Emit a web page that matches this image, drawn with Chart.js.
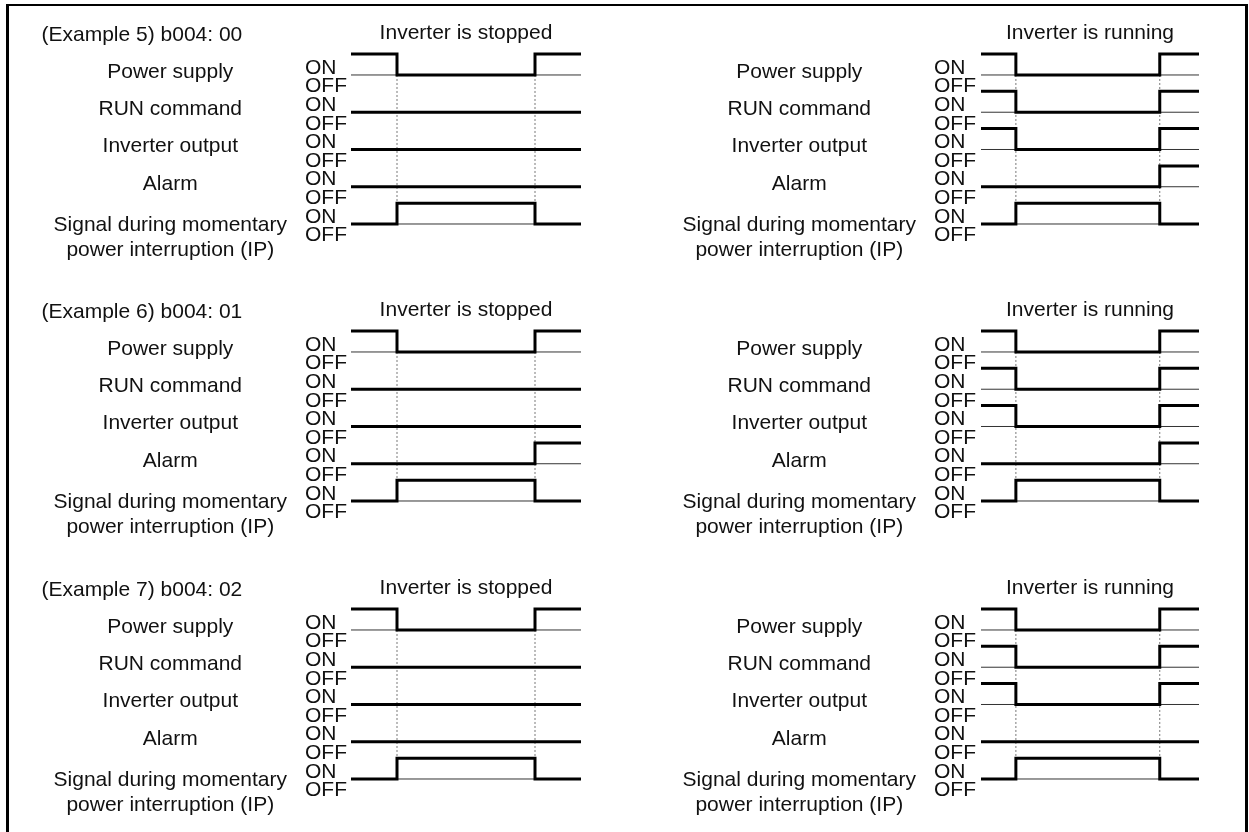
<!DOCTYPE html>
<html>
<head>
<meta charset="utf-8">
<title>b004 timing charts</title>
<script src="https://cdn.jsdelivr.net/npm/chart.js@4.4.1/dist/chart.umd.min.js"></script>
<style>
  html, body { margin: 0; padding: 0; background: #fff; }
  #page { position: relative; width: 1249px; height: 832px; overflow: hidden; }
  #frame { position: absolute; left: 6px; top: 4px; width: 1236px; height: 900px;
           border-top: 2px solid #000; border-left: 3px solid #000; border-right: 3px solid #000; }
  canvas { position: absolute; }
</style>
</head>
<body>
<div id="page">
  <div id="frame"></div>
</div>
<script>
// rows from top to bottom
const signalNames = ["Power supply", "RUN command", "Inverter output", "Alarm",
                     ["Signal during momentary", "power interruption (IP)"]];
const levelLabels = ["ON", "OFF"];

const exampleTags = ["(Example 5) b004: 00", "(Example 6) b004: 01", "(Example 7) b004: 02"];
const modeTitles = ["Inverter is stopped", "Inverter is running"];

// times: start, power lost, power back, end
const stoppedTimes = [0, 1, 4, 5];
const runningTimes = [0, 0.8, 4.1, 5];

// 1 = ON, 0 = OFF for each interval (before loss, during loss, after return)
const ex5Stopped = [[1, 0, 1], [0, 0, 0], [0, 0, 0], [0, 0, 0], [0, 1, 0]];
const ex5Running = [[1, 0, 1], [1, 0, 1], [1, 0, 1], [0, 0, 1], [0, 1, 0]];
const ex6Stopped = [[1, 0, 1], [0, 0, 0], [0, 0, 0], [0, 0, 1], [0, 1, 0]];
const ex6Running = [[1, 0, 1], [1, 0, 1], [1, 0, 1], [0, 0, 1], [0, 1, 0]];
const ex7Stopped = [[1, 0, 1], [0, 0, 0], [0, 0, 0], [0, 0, 0], [0, 1, 0]];
const ex7Running = [[1, 0, 1], [1, 0, 1], [1, 0, 1], [0, 0, 0], [0, 1, 0]];

const panelStates = [[ex5Stopped, ex5Running], [ex6Stopped, ex6Running], [ex7Stopped, ex7Running]];

// --- look ---
const FONT = "'Liberation Sans', Arial, Helvetica, sans-serif";
const NARROW = "'Liberation Sans Narrow', 'Liberation Sans', Arial, sans-serif";
const INK = '#111';
const ON_STEP = 0.56;          // height of ON above OFF, in row units
const Y_MIN = -1, Y_MAX = 4.7;
const TOP_AXIS_H = 48.9;
const ROW_TOPS = [0, 277, 555];
const ROW_H = 277;
// left column / right column geometry
const COLS = [
  { left: 8,   width: 612, nameW: 277, levelW: 46, padRight: 39 },
  { left: 620, width: 626, nameW: 294, levelW: 47, padRight: 47 }
];
const nameNudge = [0.08, 0.08, 0.08, 0.08, -0.37];

Chart.defaults.font.family = FONT;
Chart.defaults.color = INK;

function rowBase(i) { return signalNames.length - 1 - i; }

const exampleTag = {
  id: 'exampleTag',
  afterDraw(chart, args, opts) {
    if (!opts.text) return;
    const ctx = chart.ctx;
    ctx.save();
    ctx.font = '21px ' + FONT;
    ctx.fillStyle = INK;
    ctx.textAlign = 'left';
    ctx.textBaseline = 'middle';
    ctx.fillText(opts.text, opts.x, opts.y);
    ctx.restore();
  }
};

function noPad(s) {
  s.paddingTop = 0; s.paddingBottom = 0; s.paddingLeft = 0; s.paddingRight = 0;
}

function buildDatasets(times, states) {
  const ds = [];
  // thick traces first so they are painted on top
  states.forEach((st, i) => {
    const b = rowBase(i);
    ds.push({
      data: times.map((t, k) => ({ x: t, y: b + st[Math.min(k, st.length - 1)] * ON_STEP })),
      stepped: 'before', borderColor: '#000', borderWidth: 3
    });
  });
  // dotted guides at the two power events
  [times[1], times[2]].forEach(t => {
    ds.push({
      data: [{ x: t, y: rowBase(0) }, { x: t, y: rowBase(signalNames.length - 1) }],
      borderColor: '#777', borderWidth: 1, borderDash: [2, 2]
    });
  });
  // thin OFF baselines
  signalNames.forEach((n, i) => {
    ds.push({
      data: [{ x: times[0], y: rowBase(i) }, { x: times[times.length - 1], y: rowBase(i) }],
      borderColor: '#333', borderWidth: 1
    });
  });
  return ds;
}

function makePanel(row, col) {
  const geo = COLS[col];
  const times = col === 0 ? stoppedTimes : runningTimes;
  const canvas = document.createElement('canvas');
  canvas.width = geo.width;
  canvas.height = ROW_H;
  canvas.style.left = geo.left + 'px';
  canvas.style.top = ROW_TOPS[row] + 'px';
  document.getElementById('page').appendChild(canvas);

  const levelTicks = [];
  signalNames.forEach((n, i) => {
    levelTicks.push({ value: rowBase(i) + 0.19 });
    levelTicks.push({ value: rowBase(i) - 0.31 });
  });
  const nameTicks = signalNames.map((n, i) => ({ value: rowBase(i) + nameNudge[i] }));

  const tickFont = { family: FONT, size: 21 };

  new Chart(canvas, {
    type: 'line',
    data: { datasets: buildDatasets(times, panelStates[row][col]) },
    options: {
      responsive: false,
      animation: false,
      devicePixelRatio: 1,
      parsing: false,
      layout: { padding: { left: 20, right: geo.padRight, top: 0, bottom: ROW_H - 261.25 } },
      elements: { point: { radius: 0 }, line: { tension: 0, fill: false } },
      plugins: {
        legend: { display: false },
        tooltip: { enabled: false },
        exampleTag: { text: col === 0 ? exampleTags[row] : '', x: 33.5, y: 35 }
      },
      scales: {
        x: {
          type: 'linear', position: 'top',
          min: times[0], max: times[times.length - 1],
          grid: { display: false, drawTicks: false }, border: { display: false },
          ticks: { display: false },
          title: { display: true, text: modeTitles[col], color: INK, font: tickFont,
                   padding: { top: 21, bottom: 0 } },
          afterFit: s => { s.height = TOP_AXIS_H; noPad(s); }
        },
        y: {
          type: 'linear', position: 'left', weight: 0,
          min: Y_MIN, max: Y_MAX,
          grid: { display: false, drawTicks: false }, border: { display: false },
          afterBuildTicks: s => { s.ticks = levelTicks.map(t => ({ value: t.value })); },
          ticks: { autoSkip: false, crossAlign: 'far', padding: 0, color: INK,
                   font: { family: NARROW, size: 21 },
                   callback: (v, i) => levelLabels[i % 2] },
          afterFit: s => { s.width = geo.levelW; noPad(s); }
        },
        names: {
          type: 'linear', position: 'left', weight: 1,
          min: Y_MIN, max: Y_MAX,
          grid: { display: false, drawTicks: false }, border: { display: false },
          afterBuildTicks: s => { s.ticks = nameTicks.map(t => ({ value: t.value })); },
          ticks: { autoSkip: false, crossAlign: 'center', padding: 18, color: INK, font: tickFont,
                   callback: (v, i) => signalNames[i] },
          afterFit: s => { s.width = geo.nameW; noPad(s); }
        }
      }
    },
    plugins: [exampleTag]
  });
}

for (let r = 0; r < 3; r++) {
  makePanel(r, 0);
  makePanel(r, 1);
}
</script>
</body>
</html>
